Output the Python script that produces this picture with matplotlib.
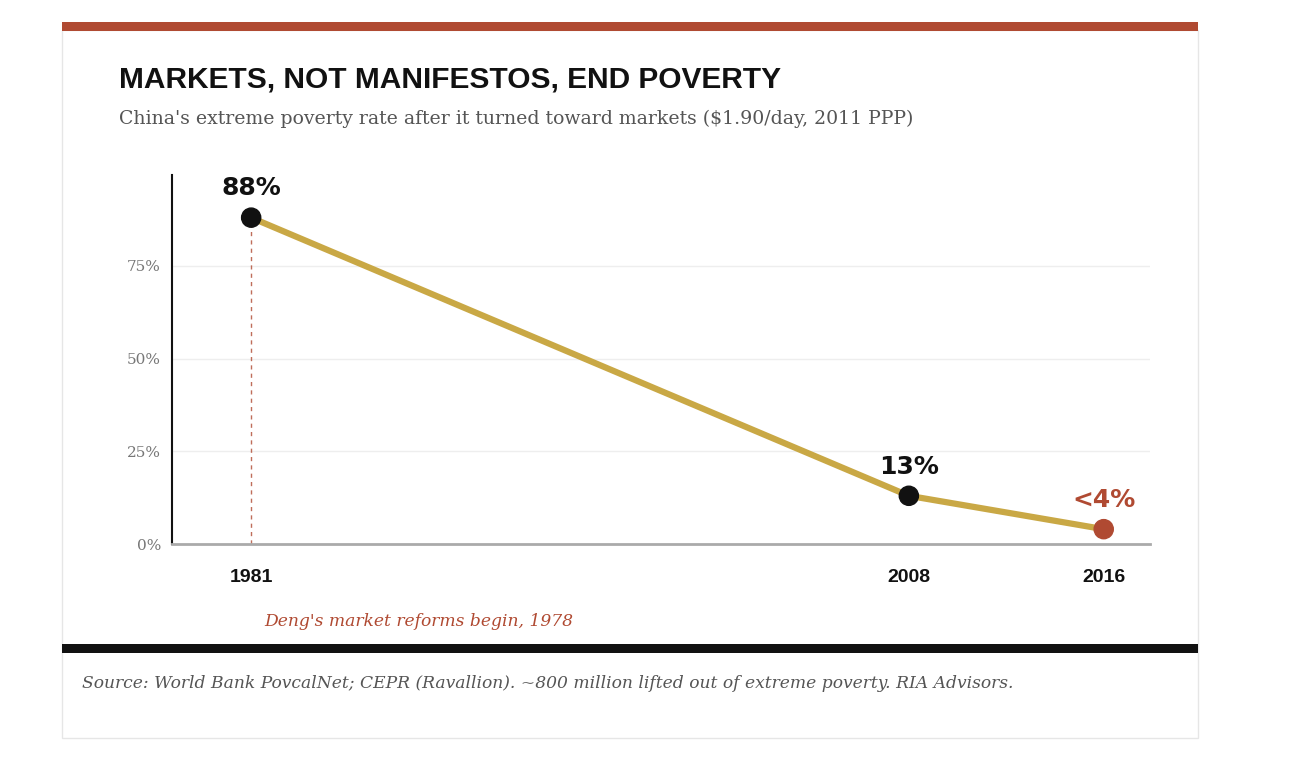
import matplotlib.pyplot as plt
from matplotlib.patches import Rectangle

# data
years = [1981, 2008, 2016]
rates = [88, 13, 4]
labels = ["88%", "13%", "<4%"]
yticks = [0, 25, 50, 75]
ytick_labels = ["0%", "25%", "50%", "75%"]

W, H = 1292, 774
GOLD = "#c9a845"
RED = "#b04a32"

fig = plt.figure(figsize=(W / 100, H / 100), dpi=100)

def px(x, y):
    return x / W, 1 - y / H

# card + bars
fig.patches.append(Rectangle(px(62, 738), 1136 / W, 708 / H, transform=fig.transFigure,
                             facecolor="white", edgecolor="#e6e6e6", lw=1, zorder=-1))
fig.patches.append(Rectangle(px(62, 31), 1136 / W, 9 / H, transform=fig.transFigure,
                             facecolor=RED, edgecolor="none", zorder=-1))
fig.patches.append(Rectangle(px(62, 653), 1136 / W, 9 / H, transform=fig.transFigure,
                             facecolor="#111111", edgecolor="none", zorder=-1))

fig.text(*px(119, 80), "MARKETS, NOT MANIFESTOS, END POVERTY", fontsize=21.5, fontweight="bold",
         family="Liberation Sans", color="#111111", va="center")
fig.text(*px(119, 119), "China's extreme poverty rate after it turned toward markets ($1.90/day, 2011 PPP)",
         fontsize=13.6, family="DejaVu Serif", color="#555555", va="center")
fig.text(*px(264, 622), "Deng's market reforms begin, 1978", fontsize=12.3, family="DejaVu Serif",
         style="italic", color=RED, va="center")
fig.text(*px(82, 684), "Source: World Bank PovcalNet; CEPR (Ravallion). ~800 million lifted out of extreme poverty. RIA Advisors.",
         fontsize=12.3, family="DejaVu Serif", style="italic", color="#555555", va="center")

# axes
l, b = px(172, 544)
r, t = px(1150, 175)
ax = fig.add_axes([l, b, r - l, t - b])
ax.set_zorder(5)
ax.set_xlim(1977.75, 2017.9)
ax.set_ylim(0, 99.5)
ax.set_facecolor("none")

for v in yticks[1:]:
    ax.axhline(v, color="#eeeeee", lw=1, zorder=0)
ax.axvline(1981, ymax=88 / 99.5, color=RED, ls=(0, (3, 3)), lw=1, alpha=0.8, zorder=1)

ax.plot(years, rates, color=GOLD, lw=4.5, zorder=2, solid_capstyle="round")
colors = ["#111111", "#111111", RED]
ax.scatter(years, rates, s=190, c=colors, zorder=3)
for x, y, lab, c in zip(years, rates, labels, colors):
    ax.annotate(lab, (x, y), xytext=(0, 16), textcoords="offset points", ha="center",
                fontsize=18, fontweight="bold", family="DejaVu Sans", color=c)

for s in ["top", "right"]:
    ax.spines[s].set_visible(False)
ax.spines["left"].set_color("#111111")
ax.spines["left"].set_linewidth(1.5)
ax.spines["bottom"].set_color("#aaaaaa")
ax.spines["bottom"].set_linewidth(2)

ax.set_yticks(yticks)
ax.set_yticklabels(ytick_labels, family="DejaVu Serif", fontsize=11, color="#777777")
ax.set_xticks(years)
ax.set_xticklabels([str(y) for y in years], family="Liberation Sans", fontsize=14,
                   fontweight="bold", color="#111111")
ax.tick_params(axis="both", length=0)
ax.tick_params(axis="x", pad=18)
ax.tick_params(axis="y", pad=8)

fig.savefig("out.png", dpi=100)
